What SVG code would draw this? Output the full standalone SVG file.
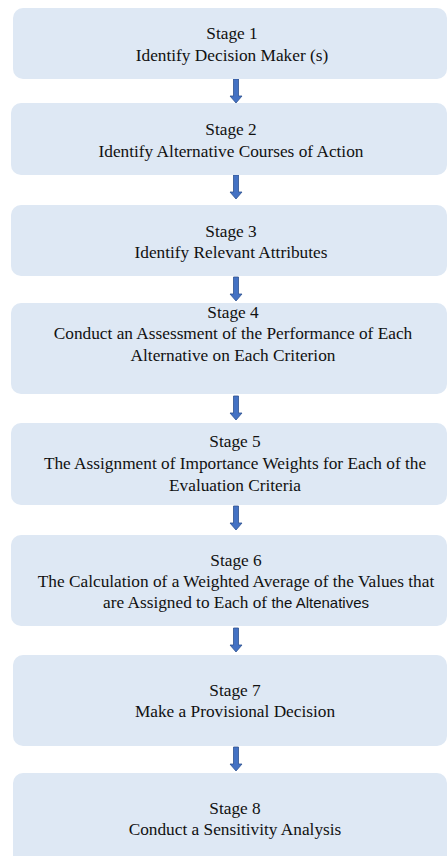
<svg xmlns="http://www.w3.org/2000/svg" width="448" height="856" viewBox="0 0 448 856">
<style>
.box{fill:#DEE8F4;}
.t{font-family:'Liberation Serif','Times New Roman','DejaVu Serif',serif;font-size:17.3px;fill:#111;text-anchor:middle;}
.s{font-family:'Liberation Sans',Arial,sans-serif;font-size:15px;}
.arr{fill:#4472C4;stroke:#2F528F;stroke-width:0.8;}
</style>
<defs>
<path id="ar" class="arr" d="M-2.5,0 H2.5 V17 H6 L0,24 L-6,17 H-2.5 Z"/>
</defs>
<rect width="448" height="856" fill="#ffffff"/>
<g id="connectors">
<use href="#ar" x="236" y="79"/>
<use href="#ar" x="236" y="175"/>
<use href="#ar" x="236" y="277"/>
<use href="#ar" x="236" y="396"/>
<use href="#ar" x="236" y="506"/>
<use href="#ar" x="236" y="628"/>
<use href="#ar" x="236" y="747"/>
</g>
<g id="stage1">
<rect class="box" x="13" y="8" width="434" height="71" rx="10"/>
<text class="t" font-family="Liberation Serif, serif" x="232" y="39">Stage 1</text>
<text class="t" x="232" y="61">Identify Decision Maker (s)</text>
</g>
<g id="stage2">
<rect class="box" x="11" y="103" width="436" height="72" rx="10"/>
<text class="t" x="231" y="135">Stage 2</text>
<text class="t" x="231" y="157">Identify Alternative  Courses of Action</text>
</g>
<g id="stage3">
<rect class="box" x="11" y="205" width="436" height="71" rx="10"/>
<text class="t" x="231" y="237">Stage 3</text>
<text class="t" x="231" y="258">Identify Relevant Attributes</text>
</g>
<g id="stage4">
<rect class="box" x="11" y="303" width="436" height="91" rx="10"/>
<text class="t" x="233" y="318">Stage 4</text>
<text class="t" x="233" y="339">Conduct an Assessment of the Performance of Each</text>
<text class="t" x="233" y="361">Alternative  on Each Criterion</text>
</g>
<g id="stage5">
<rect class="box" x="11" y="423" width="436" height="82" rx="10"/>
<text class="t" x="235" y="447">Stage 5</text>
<text class="t" x="235" y="469">The Assignment of Importance Weights for Each of the</text>
<text class="t" x="235" y="491">Evaluation Criteria</text>
</g>
<g id="stage6">
<rect class="box" x="11" y="535" width="436" height="91" rx="10"/>
<text class="t" x="236" y="566">Stage 6</text>
<text class="t" x="236" y="587">The Calculation of a Weighted Average of the Values that</text>
<text class="t" x="236" y="608">are Assigned to Each of <tspan class="s">the Altenatives</tspan></text>
</g>
<g id="stage7">
<rect class="box" x="13" y="655" width="434" height="91" rx="10"/>
<text class="t" x="235" y="696">Stage 7</text>
<text class="t" x="235" y="717">Make a Provisional Decision</text>
</g>
<g id="stage8">
<rect class="box" x="13" y="773" width="434" height="95" rx="10"/>
<text class="t" x="235" y="814">Stage 8</text>
<text class="t" x="235" y="835">Conduct a Sensitivity  Analysis</text>
</g>
</svg>
